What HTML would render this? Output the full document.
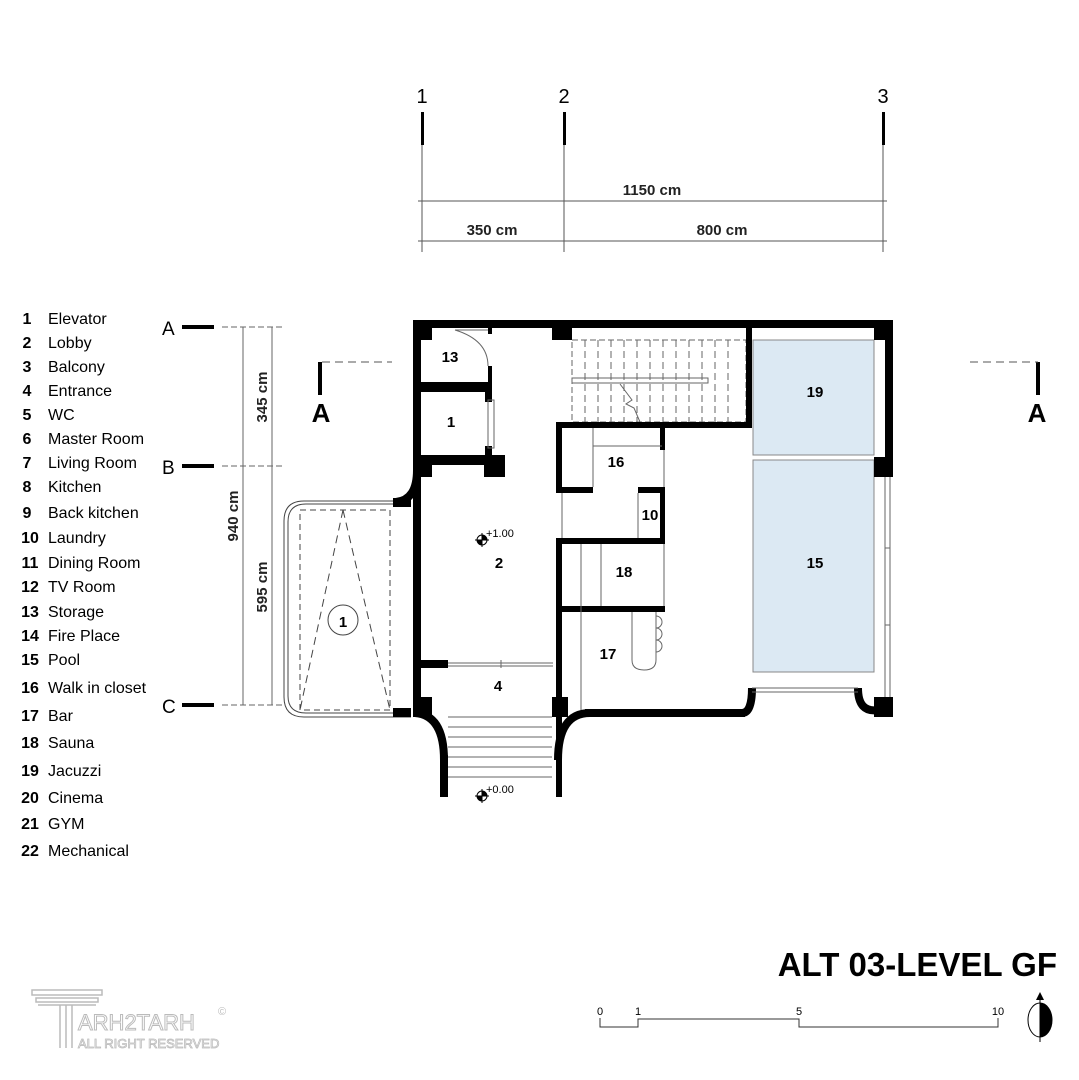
<!DOCTYPE html>
<html><head><meta charset="utf-8"><style>
html,body{margin:0;padding:0;background:#fff;}
svg{display:block;font-family:"Liberation Sans",Arial,sans-serif;}
</style></head><body>
<svg width="1079" height="1080" viewBox="0 0 1079 1080" xmlns="http://www.w3.org/2000/svg">
<rect width="1079" height="1080" fill="#fff"/>
<!-- grid axes -->
<g fill="#000" font-size="20" text-anchor="middle">
<text x="422" y="103">1</text><text x="564" y="103">2</text><text x="883" y="103">3</text>
</g>
<g fill="#000"><rect x="421" y="112" width="3" height="33"/><rect x="563" y="112" width="3" height="33"/><rect x="882" y="112" width="3" height="33"/></g>
<g stroke="#555" stroke-width="1"><line x1="422" y1="145" x2="422" y2="252"/><line x1="564" y1="145" x2="564" y2="252"/><line x1="883" y1="145" x2="883" y2="252"/>
<line x1="418" y1="201" x2="887" y2="201"/><line x1="418" y1="241" x2="887" y2="241"/></g>
<g font-size="15" font-weight="bold" text-anchor="middle" fill="#222"><text x="652" y="195">1150 cm</text><text x="492" y="235">350 cm</text><text x="722" y="235">800 cm</text></g>
<!-- left dims -->
<g font-size="19" fill="#000"><text x="162" y="335">A</text><text x="162" y="474">B</text><text x="162" y="713">C</text></g>
<g fill="#000"><rect x="182" y="325" width="32" height="4"/><rect x="182" y="464" width="32" height="4"/><rect x="182" y="703" width="32" height="4"/></g>
<g stroke="#666" stroke-width="1"><line x1="222" y1="327" x2="282" y2="327" stroke-dasharray="6,3"/><line x1="222" y1="466" x2="282" y2="466" stroke-dasharray="6,3"/><line x1="222" y1="705" x2="282" y2="705" stroke-dasharray="6,3"/>
<line x1="243" y1="327" x2="243" y2="705"/><line x1="272" y1="327" x2="272" y2="705"/></g>
<g font-size="15" font-weight="bold" fill="#222" text-anchor="middle">
<text transform="translate(267,397) rotate(-90)">345 cm</text>
<text transform="translate(267,587) rotate(-90)">595 cm</text>
<text transform="translate(238,516) rotate(-90)">940 cm</text></g>
<!-- section A markers -->
<rect x="318" y="362" width="4" height="33" fill="#000"/>
<line x1="322" y1="362" x2="392" y2="362" stroke="#555" stroke-dasharray="8,5"/>
<text x="321" y="422" font-size="26" font-weight="bold" text-anchor="middle">A</text>
<rect x="1036" y="362" width="4" height="33" fill="#000"/>
<line x1="970" y1="362" x2="1038" y2="362" stroke="#555" stroke-dasharray="8,5"/>
<text x="1037" y="422" font-size="26" font-weight="bold" text-anchor="middle">A</text>
<!-- legend -->
<g font-size="16" fill="#000">
<g font-weight="bold" text-anchor="middle">
<text x="27" y="324">1</text><text x="27" y="348">2</text><text x="27" y="372">3</text><text x="27" y="396">4</text><text x="27" y="420">5</text><text x="27" y="444">6</text><text x="27" y="468">7</text><text x="27" y="492">8</text><text x="27" y="518">9</text><text x="30" y="543">10</text><text x="30" y="568">11</text><text x="30" y="592">12</text><text x="30" y="617">13</text><text x="30" y="641">14</text><text x="30" y="665">15</text><text x="30" y="693">16</text><text x="30" y="721">17</text><text x="30" y="748">18</text><text x="30" y="776">19</text><text x="30" y="803">20</text><text x="30" y="829">21</text><text x="30" y="856">22</text></g>
<text x="48" y="324">Elevator</text><text x="48" y="348">Lobby</text><text x="48" y="372">Balcony</text><text x="48" y="396">Entrance</text><text x="48" y="420">WC</text><text x="48" y="444">Master Room</text><text x="48" y="468">Living Room</text><text x="48" y="492">Kitchen</text><text x="48" y="518">Back kitchen</text><text x="48" y="543">Laundry</text><text x="48" y="568">Dining Room</text><text x="48" y="592">TV Room</text><text x="48" y="617">Storage</text><text x="48" y="641">Fire Place</text><text x="48" y="665">Pool</text><text x="48" y="693">Walk in closet</text><text x="48" y="721">Bar</text><text x="48" y="748">Sauna</text><text x="48" y="776">Jacuzzi</text><text x="48" y="803">Cinema</text><text x="48" y="829">GYM</text><text x="48" y="856">Mechanical</text>
</g>
<!-- pools -->
<rect x="753" y="340" width="121" height="115" fill="#dce9f3" stroke="#888"/>
<rect x="753" y="460" width="121" height="212" fill="#dce9f3" stroke="#888"/>
<!-- stairs (upper) -->
<g stroke="#666" stroke-width="1" fill="none">
<rect x="572" y="340" width="174" height="82" stroke-dasharray="6,3"/>
<g stroke-dasharray="7,4">
<line x1="585" y1="340" x2="585" y2="422"/><line x1="598" y1="340" x2="598" y2="422"/><line x1="611" y1="340" x2="611" y2="422"/><line x1="624" y1="340" x2="624" y2="422"/><line x1="637" y1="340" x2="637" y2="422"/><line x1="650" y1="340" x2="650" y2="422"/><line x1="663" y1="340" x2="663" y2="422"/><line x1="676" y1="340" x2="676" y2="422"/><line x1="689" y1="340" x2="689" y2="422"/><line x1="702" y1="340" x2="702" y2="422"/><line x1="715" y1="340" x2="715" y2="422"/><line x1="728" y1="340" x2="728" y2="422"/></g>
<rect x="572" y="378" width="136" height="5"/>
<path d="M620 384 L632 400 L626 404 L634 408 L640 422"/>
</g>
<!-- balcony -->
<g fill="none" stroke="#444">
<path d="M411 501 H304 Q284 501 284 521 V697 Q284 717 304 717 H411"/>
<path d="M409 504 H306 Q288 504 288 522 V696 Q288 713 306 713 H409"/>
<rect x="300" y="510" width="90" height="200" stroke-dasharray="6,4"/>
<path d="M343 510 L300 710 M343 510 L390 710" stroke-dasharray="8,5"/>
<circle cx="343" cy="620" r="15"/>
</g>
<text x="343" y="627" font-size="15" font-weight="bold" text-anchor="middle">1</text>
<!-- walls -->
<g fill="#000">
<rect x="413" y="320" width="480" height="8"/>
<rect x="413" y="320" width="8" height="397"/>
<rect x="421" y="328" width="11" height="12"/>
<rect x="552" y="328" width="20" height="12"/>
<rect x="488" y="328" width="4" height="6"/>
<rect x="488" y="366" width="4" height="26"/>
<rect x="413" y="382" width="79" height="10"/>
<rect x="485" y="392" width="7" height="10"/>
<rect x="485" y="446" width="7" height="10"/>
<rect x="413" y="455" width="80" height="10"/>
<rect x="484" y="455" width="21" height="22"/>
<rect x="421" y="465" width="11" height="12"/>
<rect x="746" y="328" width="6" height="98"/>
<rect x="556" y="422" width="196" height="6"/>
<rect x="874" y="320" width="19" height="20"/>
<rect x="885" y="340" width="8" height="120"/>
<rect x="874" y="457" width="19" height="20"/>
<rect x="874" y="697" width="19" height="20"/>
<!-- 16/10/18 -->
<rect x="556" y="422" width="6" height="71"/>
<rect x="556" y="487" width="37" height="6"/>
<rect x="660" y="428" width="5" height="22"/>
<rect x="638" y="487" width="27" height="6"/>
<rect x="660" y="487" width="5" height="56"/>
<rect x="556" y="538" width="109" height="6"/>
<rect x="556" y="538" width="6" height="70"/>
<rect x="556" y="606" width="109" height="6"/>
<rect x="556" y="606" width="6" height="191"/>
<rect x="552" y="697" width="16" height="20"/>
<!-- entrance -->
<rect x="421" y="660" width="27" height="8"/>
<rect x="421" y="697" width="11" height="20"/>
<rect x="393" y="708" width="18" height="9"/>
<rect x="393" y="498" width="18" height="9"/>
<rect x="440" y="755" width="8" height="42"/>
<!-- bottom wall of 17 -->
<rect x="585" y="709" width="160" height="8"/>
</g>
<g fill="none" stroke="#000" stroke-width="8">
<path d="M417 470 Q417 500 396 502"/>
<path d="M415 713 Q444 715 444 760"/>
<path d="M558 760 Q558 713 590 713"/>
<path d="M742 713 Q752 713 752 688"/>
<path d="M858 688 Q858 713 878 710"/>
</g>
<!-- thin lines -->
<g stroke="#666" stroke-width="1" fill="none">
<rect x="488" y="400" width="6" height="48"/>
<line x1="448" y1="663" x2="553" y2="663"/><line x1="448" y1="666" x2="553" y2="666"/>
<line x1="501" y1="660" x2="501" y2="668"/>
<line x1="752" y1="688" x2="858" y2="688"/><line x1="752" y1="692" x2="858" y2="692"/>
<line x1="885" y1="477" x2="885" y2="697"/><line x1="890" y1="477" x2="890" y2="697"/>
<line x1="885" y1="548" x2="890" y2="548"/><line x1="885" y1="625" x2="890" y2="625"/>
<line x1="593" y1="428" x2="593" y2="487"/><line x1="593" y1="446" x2="662" y2="446"/>
<line x1="638" y1="493" x2="638" y2="538"/>
<line x1="562" y1="538" x2="562" y2="493"/>
<line x1="581" y1="544" x2="581" y2="710"/><line x1="601" y1="544" x2="601" y2="606"/>
<line x1="664" y1="544" x2="664" y2="606"/>
<line x1="664" y1="450" x2="664" y2="487"/>
<path d="M632 612 V660 Q632 670 644 670 Q656 670 656 660 V612"/>
<path d="M656 616 a5 5 0 0 1 0 12 a5 5 0 0 1 0 12 a5 5 0 0 1 0 12"/>
<path d="M455 330 Q488 340 488 366"/>
<line x1="455" y1="330" x2="488" y2="330"/>
<!-- front stairs -->
<line x1="448" y1="717" x2="552" y2="717"/><line x1="448" y1="727" x2="552" y2="727"/><line x1="448" y1="737" x2="552" y2="737"/><line x1="448" y1="747" x2="552" y2="747"/><line x1="448" y1="757" x2="552" y2="757"/><line x1="448" y1="767" x2="552" y2="767"/><line x1="448" y1="777" x2="552" y2="777"/>
</g>
<!-- elevation markers -->
<g>
<circle cx="482" cy="540" r="5" fill="#fff" stroke="#000"/><path d="M482 540 V535 A5 5 0 0 1 487 540 Z M482 540 V545 A5 5 0 0 1 477 540 Z" fill="#000"/>
<line x1="475" y1="540" x2="489" y2="540" stroke="#000"/><line x1="482" y1="533" x2="482" y2="547" stroke="#000"/>
<text x="486" y="537" font-size="11">+1.00</text>
<circle cx="482" cy="796" r="5" fill="#fff" stroke="#000"/><path d="M482 796 V791 A5 5 0 0 1 487 796 Z M482 796 V801 A5 5 0 0 1 477 796 Z" fill="#000"/>
<line x1="475" y1="796" x2="489" y2="796" stroke="#000"/><line x1="482" y1="789" x2="482" y2="803" stroke="#000"/>
<text x="486" y="793" font-size="11">+0.00</text>
</g>
<!-- room labels -->
<g font-size="15" font-weight="bold" text-anchor="middle" fill="#000">
<text x="450" y="362">13</text><text x="451" y="427">1</text><text x="616" y="467">16</text><text x="650" y="520">10</text><text x="624" y="577">18</text><text x="499" y="568">2</text><text x="608" y="659">17</text><text x="498" y="691">4</text><text x="815" y="397">19</text><text x="815" y="568">15</text>
</g>
<!-- title -->
<text x="1057" y="976" font-size="33" font-weight="bold" text-anchor="end">ALT 03-LEVEL GF</text>
<g font-size="11" text-anchor="middle"><text x="600" y="1015">0</text><text x="638" y="1015">1</text><text x="799" y="1015">5</text><text x="998" y="1015">10</text></g>
<path d="M600 1018 V1027 H638 V1019 H799 V1027 H998 V1018" fill="none" stroke="#333"/>
<ellipse cx="1040" cy="1020" rx="12" ry="17" fill="#fff" stroke="#000"/>
<path d="M1040 1003 A12 17 0 0 1 1040 1037 Z" fill="#000"/>
<path d="M1036 1000 L1040 992 L1044 1000 Z" fill="#000"/>
<line x1="1040" y1="1000" x2="1040" y2="1042" stroke="#000"/>
<!-- logo -->
<g fill="none" stroke="#bbb" stroke-width="1.5">
<rect x="32" y="990" width="70" height="5"/><rect x="36" y="998" width="62" height="4"/>
<path d="M38 1005 H96 M60 1005 V1048 M66 1005 V1048 M72 1005 V1048"/>
</g>
<text x="78" y="1030" font-size="22" fill="none" stroke="#bbb" stroke-width="1">ARH2TARH</text>
<text x="78" y="1048" font-size="13" fill="none" stroke="#bbb" stroke-width="0.8">ALL RIGHT RESERVED</text>
<text x="218" y="1015" font-size="11" fill="#bbb">©</text>
</svg>
</body></html>
